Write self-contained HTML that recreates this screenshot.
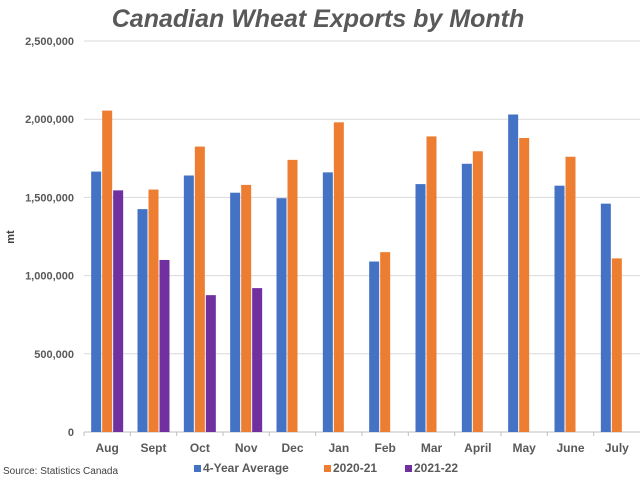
<!DOCTYPE html>
<html><head><meta charset="utf-8"><style>
body{margin:0;background:#fff;}
svg{display:block;font-family:"Liberation Sans",sans-serif;}
</style></head><body>
<svg id="c" width="640" height="480">
<text x="318" y="27" text-anchor="middle" font-size="25" font-weight="bold" font-style="italic" fill="#595959">Canadian Wheat Exports by Month</text>
<text x="14" y="237" text-anchor="middle" font-size="11" font-weight="bold" fill="#404040" transform="rotate(-90 14 237)">mt</text>
<text x="3" y="474" font-size="10" fill="#404040">Source: Statistics Canada</text>
<g id="grid"></g><g id="bars"></g><g id="labels"></g>
<g font-size="12" font-weight="bold" fill="#595959">
<rect x="194" y="465" width="7" height="7" fill="#4472C4"/>
<text x="203" y="472" fill="#595959">4-Year Average</text>
<rect x="324" y="465" width="7" height="7" fill="#ED7D31"/>
<text x="333" y="472" fill="#595959">2020-21</text>
<rect x="405" y="465" width="7" height="7" fill="#7030A0"/>
<text x="414" y="472" fill="#595959">2021-22</text>
</g>
</svg>
<script>
const categories=["Aug","Sept","Oct","Nov","Dec","Jan","Feb","Mar","April","May","June","July"];
const avg4=[1665000,1425000,1640000,1530000,1495000,1660000,1090000,1585000,1715000,2030000,1575000,1460000];
const s2020=[2055000,1550000,1825000,1580000,1740000,1980000,1150000,1890000,1795000,1880000,1760000,1110000];
const s2021=[1545000,1100000,875000,920000,null,null,null,null,null,null,null,null];
const yTicks=[0,500000,1000000,1500000,2000000,2500000];
const yTickLabels=["0","500,000","1,000,000","1,500,000","2,000,000","2,500,000"];
const NS="http://www.w3.org/2000/svg";
const x0=84,x1=640,y0=432,y1=41,maxV=2500000;
const cw=(x1-x0)/categories.length;
const y=v=>y0-(v/maxV)*(y0-y1);
const xc=i=>x0+cw*(i+0.5);
function mk(t,a,p){const e=document.createElementNS(NS,t);for(const k in a)e.setAttribute(k,a[k]);p.appendChild(e);return e;}
const grid=document.getElementById('grid'),bars=document.getElementById('bars'),lab=document.getElementById('labels');
yTicks.forEach((v,i)=>{
 if(v>0){const g=mk('line',{x1:x0,x2:x1,y1:y(v),y2:y(v),stroke:'#d9d9d9','stroke-width':1},grid);
 
 }
 const t=mk('text',{x:74,y:y(v)+4,'text-anchor':'end','font-size':11,'font-weight':'bold',fill:'#595959'},lab);
 t.textContent=yTickLabels[i];
 
 
});
const ax=mk('line',{x1:x0,x2:x1,y1:y0,y2:y0,stroke:'#bfbfbf','stroke-width':1},grid);


const bw=10;
const series=[[avg4,'#4472C4'],[s2020,'#ED7D31'],[s2021,'#7030A0']];
categories.forEach((c,i)=>{
 const tk=mk('line',{x1:x0+cw*i,x2:x0+cw*i,y1:y0,y2:y0+4,stroke:'#bfbfbf'},grid);
 
 
 series.forEach(([arr,col],s)=>{
  const v=arr[i]; if(v==null) return;
  const r=mk('rect',{x:xc(i)-16+s*11,y:y(v),width:bw,height:y0-y(v),fill:col},bars);
  
  
 });
 const t=mk('text',{x:xc(i),y:452,'text-anchor':'middle','font-size':12,'font-weight':'bold',fill:'#595959'},lab);
 t.textContent=c;
 
 
});
</script>
</body></html>
